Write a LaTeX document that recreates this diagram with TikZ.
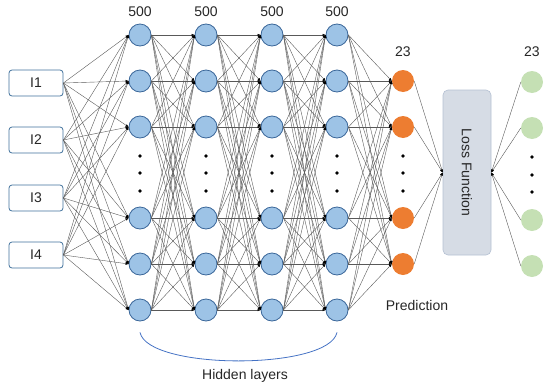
\documentclass[tikz,border=0pt]{standalone}
\usepackage{fontspec}
\setmainfont{Liberation Sans}
\usetikzlibrary{positioning,calc,arrows.meta}

\definecolor{hidfill}{HTML}{9DC3E6}
\definecolor{hidline}{HTML}{3A6699}
\definecolor{predfill}{HTML}{ED7D31}
\definecolor{truefill}{HTML}{C5E0B4}
\definecolor{lossfill}{HTML}{D6DCE5}
\definecolor{lossline}{HTML}{B4C0D2}
\definecolor{inline}{HTML}{41719C}
\definecolor{bracecol}{HTML}{4472C4}
\definecolor{txt}{HTML}{262626}

\begin{document}
\begin{tikzpicture}[
    x=1pt,
    y=-1pt,
    font=\fontsize{14}{16}\selectfont,
    text=txt,
    hidden/.style={
        draw=hidline,
        fill=hidfill,
        circle,
        line width=0.8pt,
        minimum size=22pt,
        inner sep=0pt
    },
    pred/.style={
        fill=predfill,
        circle,
        minimum size=22pt,
        inner sep=0pt
    },
    truth/.style={
        fill=truefill,
        circle,
        minimum size=22pt,
        inner sep=0pt
    },
    inbox/.style={
        draw=inline,
        fill=white,
        rounded corners=3pt,
        line width=0.8pt,
        minimum width=54pt,
        minimum height=26pt,
        inner sep=0pt
    },
    lossbox/.style={
        draw=lossline,
        fill=lossfill,
        rounded corners=5pt,
        line width=0.6pt,
        minimum width=48pt,
        minimum height=165pt,
        inner sep=0pt
    },
    link/.style={
        draw=black!65,
        line width=0.4pt,
        -{Latex[length=3pt,width=2.6pt,color=black]}
    },
    vdot/.style={
        fill=black,
        circle,
        minimum size=3.6pt,
        inner sep=0pt
    }
]
    \useasboundingbox (0,0) rectangle (550,386);

    % input boxes
    \foreach \i/\y in {1/83,2/140,3/198,4/255}
        \node[inbox] (in\i) at (36,\y) {I\i};

    % hidden layers
    \foreach \l/\x in {1/140,2/206,3/272,4/337} {
        \node (n\l) at (\x,12) {500};
        \foreach \i/\y in {1/35,2/81,3/127,4/218,5/264,6/310}
            \node[hidden] (h\l-\i) at (\x,\y) {};
        \foreach \y in {156,173,191}
            \node[vdot] at (\x,\y) {};
    }

    % prediction layer
    \node (npred) at (403,52) {23};
    \foreach \i/\y in {1/81,2/127,3/218,4/264}
        \node[pred] (p\i) at (403,\y) {};
    \foreach \y in {156,173,191}
        \node[vdot] at (403,\y) {};
    \node[below=22pt of p4,xshift=14pt] (predlabel) {Prediction};

    % loss function
    \node[lossbox] (loss) at (467,172.5) {};
    \node[rotate=-90] at (loss.center) {Loss Function};

    % ground truth layer
    \node (ntrue) at (532,52) {23};
    \foreach \i/\y in {1/82,2/128,3/220,4/266}
        \node[truth] (t\i) at (532,\y) {};
    \foreach \y in {157,175,192}
        \node[vdot] at (532,\y) {};

    % connections
    \foreach \i in {1,...,4}
        \foreach \j in {1,...,6}
            \draw[link] (in\i.east) -- (h1-\j.west);
    \foreach \l/\m in {1/2,2/3,3/4}
        \foreach \i in {1,...,6}
            \foreach \j in {1,...,6}
                \draw[link] (h\l-\i.east) -- (h\m-\j.west);
    \foreach \i in {1,...,6}
        \foreach \j in {1,...,4}
            \draw[link] (h4-\i.east) -- (p\j.west);
    \foreach \j in {1,...,4} {
        \draw[link] (p\j.east) -- (loss.west);
        \draw[link] (t\j.west) -- (loss.east);
    }

    % hidden layer brace
    \coordinate (bl) at ($(h1-6.south)+(0,11)$);
    \coordinate (br) at ($(h4-6.south)+(0,11)$);
    \draw[bracecol,line width=0.8pt] (bl) .. controls ($(bl)+(8,38)$) and ($(br)+(-8,38)$) .. (br);
    \node (hidlabel) at (245,376) {Hidden layers};
\end{tikzpicture}
\end{document}
